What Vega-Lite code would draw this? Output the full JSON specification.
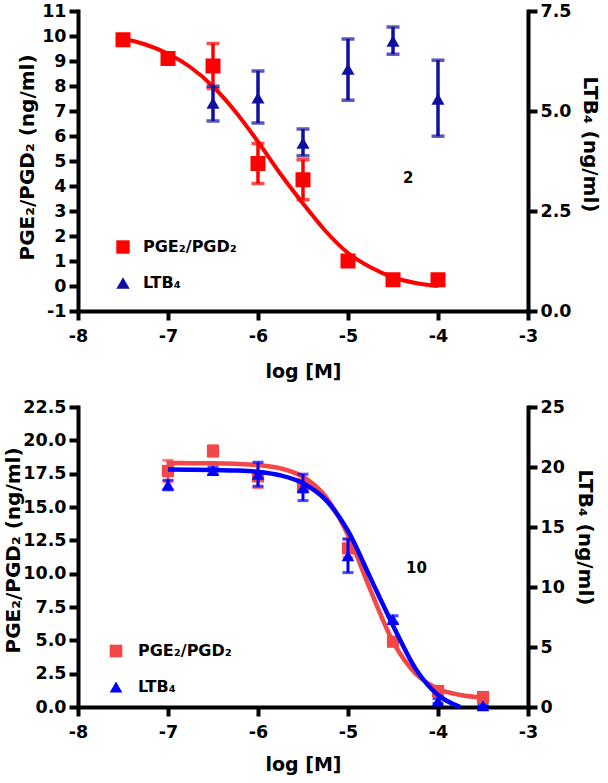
{
  "$schema": "https://vega.github.io/schema/vega-lite/v6.json",
  "padding": {"left": 3, "top": 2, "right": 5, "bottom": 0},
  "spacing": 16,
  "config": {
    "view": {"stroke": null},
    "font": "DejaVu Sans",
    "axis": {
      "domainColor": "black", "domainWidth": 4, "domainCap": "square",
      "tickColor": "black", "tickWidth": 4, "tickSize": 9,
      "labelFont": "DejaVu Sans", "labelFontWeight": "bold", "labelFontSize": 17.5, "labelColor": "black",
      "labelPadding": 3, "labelOverlap": false, "labelFlush": false,
      "titleFont": "DejaVu Sans", "titleFontWeight": "bold", "titleFontSize": 20, "titleColor": "black",
      "grid": false
    }
  },
  "datasets": {
    "top_red": [
      {"x": -7.5, "y": 9.85, "lo": 9.7, "hi": 10.0, "series": "PGE₂/PGD₂"},
      {"x": -7.0, "y": 9.1, "lo": 9.0, "hi": 9.2, "series": "PGE₂/PGD₂"},
      {"x": -6.5, "y": 8.8, "lo": 7.9, "hi": 9.7, "series": "PGE₂/PGD₂"},
      {"x": -6.0, "y": 4.9, "lo": 4.1, "hi": 5.7, "series": "PGE₂/PGD₂"},
      {"x": -5.5, "y": 4.25, "lo": 3.45, "hi": 5.05, "series": "PGE₂/PGD₂"},
      {"x": -5.0, "y": 1.0, "lo": 0.9, "hi": 1.1, "series": "PGE₂/PGD₂"},
      {"x": -4.5, "y": 0.25, "lo": 0.15, "hi": 0.35, "series": "PGE₂/PGD₂"},
      {"x": -4.0, "y": 0.25, "lo": 0.1, "hi": 0.4, "series": "PGE₂/PGD₂"}
    ],
    "top_blue": [
      {"x": -6.5, "y": 5.2, "lo": 4.75, "hi": 5.62, "series": "LTB₄"},
      {"x": -6.0, "y": 5.33, "lo": 4.7, "hi": 6.0, "series": "LTB₄"},
      {"x": -5.5, "y": 4.2, "lo": 3.88, "hi": 4.55, "series": "LTB₄"},
      {"x": -5.0, "y": 6.05, "lo": 5.27, "hi": 6.8, "series": "LTB₄"},
      {"x": -4.5, "y": 6.75, "lo": 6.42, "hi": 7.1, "series": "LTB₄"},
      {"x": -4.0, "y": 5.3, "lo": 4.37, "hi": 6.27, "series": "LTB₄"}
    ],
    "top_red_curve": [
      {"x": -7.5, "y": 9.9}, {"x": -7.25, "y": 9.66}, {"x": -7.0, "y": 9.29},
      {"x": -6.75, "y": 8.75}, {"x": -6.5, "y": 7.98}, {"x": -6.25, "y": 6.97},
      {"x": -6.0, "y": 5.77}, {"x": -5.75, "y": 4.48}, {"x": -5.5, "y": 3.3},
      {"x": -5.25, "y": 2.2}, {"x": -5.0, "y": 1.32}, {"x": -4.75, "y": 0.75},
      {"x": -4.5, "y": 0.35}, {"x": -4.25, "y": 0.12}, {"x": -4.0, "y": 0.0}
    ],
    "top_note": [{"x": -4.33, "y": 4.32, "label": "2"}],
    "bot_red": [
      {"x": -7.0, "y": 17.7, "lo": 16.9, "hi": 18.5, "series": "PGE₂/PGD₂"},
      {"x": -6.5, "y": 19.2, "lo": 18.8, "hi": 19.6, "series": "PGE₂/PGD₂"},
      {"x": -6.0, "y": 17.3, "lo": 16.45, "hi": 18.15, "series": "PGE₂/PGD₂"},
      {"x": -5.5, "y": 16.6, "lo": 16.1, "hi": 17.1, "series": "PGE₂/PGD₂"},
      {"x": -5.0, "y": 11.9, "lo": 11.2, "hi": 12.6, "series": "PGE₂/PGD₂"},
      {"x": -4.5, "y": 4.9, "lo": 4.6, "hi": 5.2, "series": "PGE₂/PGD₂"},
      {"x": -4.0, "y": 1.2, "lo": 1.0, "hi": 1.4, "series": "PGE₂/PGD₂"},
      {"x": -3.5, "y": 0.75, "lo": 0.65, "hi": 0.85, "series": "PGE₂/PGD₂"}
    ],
    "bot_blue": [
      {"x": -7.0, "y": 18.5, "lo": 18.1, "hi": 18.9, "series": "LTB₄"},
      {"x": -6.5, "y": 19.7, "lo": 19.4, "hi": 20.0, "series": "LTB₄"},
      {"x": -6.0, "y": 19.4, "lo": 18.4, "hi": 20.4, "series": "LTB₄"},
      {"x": -5.5, "y": 18.3, "lo": 17.2, "hi": 19.4, "series": "LTB₄"},
      {"x": -5.0, "y": 12.6, "lo": 11.2, "hi": 14.0, "series": "LTB₄"},
      {"x": -4.5, "y": 7.3, "lo": 7.0, "hi": 7.6, "series": "LTB₄"},
      {"x": -4.0, "y": 0.5, "lo": 0.3, "hi": 0.7, "series": "LTB₄"},
      {"x": -3.5, "y": 0.1, "lo": 0.0, "hi": 0.2, "series": "LTB₄"}
    ],
    "bot_red_curve": [
      {"x": -7.0, "y": 18.3}, {"x": -6.75, "y": 18.29}, {"x": -6.5, "y": 18.28},
      {"x": -6.25, "y": 18.24}, {"x": -6.0, "y": 18.15}, {"x": -5.75, "y": 17.9},
      {"x": -5.5, "y": 17.27}, {"x": -5.25, "y": 15.79}, {"x": -5.0, "y": 12.9},
      {"x": -4.75, "y": 8.76}, {"x": -4.5, "y": 4.9}, {"x": -4.25, "y": 2.51},
      {"x": -4.0, "y": 1.37}, {"x": -3.75, "y": 0.9}, {"x": -3.5, "y": 0.71}
    ],
    "bot_blue_curve": [
      {"x": -7.0, "y": 19.79}, {"x": -6.75, "y": 19.78}, {"x": -6.5, "y": 19.76},
      {"x": -6.25, "y": 19.71}, {"x": -6.0, "y": 19.59}, {"x": -5.75, "y": 19.3},
      {"x": -5.5, "y": 18.65}, {"x": -5.25, "y": 17.28}, {"x": -5.0, "y": 14.68},
      {"x": -4.75, "y": 10.74}, {"x": -4.5, "y": 6.8}, {"x": -4.25, "y": 3.2},
      {"x": -4.0, "y": 1.0}, {"x": -3.75, "y": 0.0}
    ],
    "bot_note": [{"x": -4.24, "y": 10.4, "label": "10"}]
  },
  "vconcat": [
    {
      "width": 450, "height": 300,
      "layer": [
        {
          "layer": [
            {
              "data": {"name": "top_red_curve"},
              "mark": {"type": "line", "color": "#ff0000", "strokeWidth": 4, "interpolate": "monotone"},
              "encoding": {
                "x": {"field": "x", "type": "quantitative", "scale": {"domain": [-8, -3], "nice": false, "zero": false}, "axis": {"title": "log [M]", "values": [-8, -7, -6, -5, -4, -3], "labelExpr": "datum.value < 0 ? '-' + format(-datum.value, 'd') : format(datum.value, 'd')", "titleFontSize": 19, "labelPadding": 7, "titlePadding": 18}},
                "y": {"field": "y", "type": "quantitative", "scale": {"domain": [-1, 11], "nice": false, "zero": false}, "axis": {"orient": "left", "title": "PGE₂/PGD₂ (ng/ml)", "values": [-1, 0, 1, 2, 3, 4, 5, 6, 7, 8, 9, 10, 11], "labelExpr": "datum.value < 0 ? '-' + format(-datum.value, 'd') : format(datum.value, 'd')", "titlePadding": 4, "titleY": 146}}
              }
            },
            {
              "data": {"name": "top_red"},
              "mark": {"type": "rule", "color": "#ff0000", "strokeWidth": 3.5},
              "encoding": {
                "x": {"field": "x", "type": "quantitative", "scale": {"domain": [-8, -3], "nice": false, "zero": false}, "axis": {"title": "log [M]", "values": [-8, -7, -6, -5, -4, -3], "labelExpr": "datum.value < 0 ? '-' + format(-datum.value, 'd') : format(datum.value, 'd')", "titleFontSize": 19, "labelPadding": 7, "titlePadding": 18}},
                "y": {"field": "lo", "type": "quantitative", "scale": {"domain": [-1, 11], "nice": false, "zero": false}, "axis": {"orient": "left", "title": "PGE₂/PGD₂ (ng/ml)", "values": [-1, 0, 1, 2, 3, 4, 5, 6, 7, 8, 9, 10, 11], "labelExpr": "datum.value < 0 ? '-' + format(-datum.value, 'd') : format(datum.value, 'd')", "titlePadding": 4, "titleY": 146}},
                "y2": {"field": "hi"}
              }
            },
            {
              "data": {"name": "top_red"},
              "mark": {"type": "tick", "orient": "horizontal", "color": "#ff0000", "size": 13, "thickness": 3.5},
              "encoding": {
                "x": {"field": "x", "type": "quantitative", "scale": {"domain": [-8, -3], "nice": false, "zero": false}, "axis": {"title": "log [M]", "values": [-8, -7, -6, -5, -4, -3], "labelExpr": "datum.value < 0 ? '-' + format(-datum.value, 'd') : format(datum.value, 'd')", "titleFontSize": 19, "labelPadding": 7, "titlePadding": 18}},
                "y": {"field": "lo", "type": "quantitative", "scale": {"domain": [-1, 11], "nice": false, "zero": false}, "axis": {"orient": "left", "title": "PGE₂/PGD₂ (ng/ml)", "values": [-1, 0, 1, 2, 3, 4, 5, 6, 7, 8, 9, 10, 11], "labelExpr": "datum.value < 0 ? '-' + format(-datum.value, 'd') : format(datum.value, 'd')", "titlePadding": 4, "titleY": 146}}
              }
            },
            {
              "data": {"name": "top_red"},
              "mark": {"type": "tick", "orient": "horizontal", "color": "#ff0000", "size": 13, "thickness": 3.5},
              "encoding": {
                "x": {"field": "x", "type": "quantitative", "scale": {"domain": [-8, -3], "nice": false, "zero": false}, "axis": {"title": "log [M]", "values": [-8, -7, -6, -5, -4, -3], "labelExpr": "datum.value < 0 ? '-' + format(-datum.value, 'd') : format(datum.value, 'd')", "titleFontSize": 19, "labelPadding": 7, "titlePadding": 18}},
                "y": {"field": "hi", "type": "quantitative", "scale": {"domain": [-1, 11], "nice": false, "zero": false}, "axis": {"orient": "left", "title": "PGE₂/PGD₂ (ng/ml)", "values": [-1, 0, 1, 2, 3, 4, 5, 6, 7, 8, 9, 10, 11], "labelExpr": "datum.value < 0 ? '-' + format(-datum.value, 'd') : format(datum.value, 'd')", "titlePadding": 4, "titleY": 146}}
              }
            },
            {
              "data": {"name": "top_red"},
              "mark": {"type": "point", "filled": true, "opacity": 1, "size": 225},
              "encoding": {
                "x": {"field": "x", "type": "quantitative", "scale": {"domain": [-8, -3], "nice": false, "zero": false}, "axis": {"title": "log [M]", "values": [-8, -7, -6, -5, -4, -3], "labelExpr": "datum.value < 0 ? '-' + format(-datum.value, 'd') : format(datum.value, 'd')", "titleFontSize": 19, "labelPadding": 7, "titlePadding": 18}},
                "y": {"field": "y", "type": "quantitative", "scale": {"domain": [-1, 11], "nice": false, "zero": false}, "axis": {"orient": "left", "title": "PGE₂/PGD₂ (ng/ml)", "values": [-1, 0, 1, 2, 3, 4, 5, 6, 7, 8, 9, 10, 11], "labelExpr": "datum.value < 0 ? '-' + format(-datum.value, 'd') : format(datum.value, 'd')", "titlePadding": 4, "titleY": 146}},
                "color": {"field": "series", "type": "nominal", "scale": {"domain": ["PGE₂/PGD₂", "LTB₄"], "range": ["#ff0000", "#1010a0"]}, "legend": {"orient": "none", "legendX": 37, "legendY": 228, "title": null, "symbolSize": 180, "labelFontSize": 16, "labelFontWeight": "bold", "labelFont": "DejaVu Sans", "labelColor": "black", "rowPadding": 20, "labelOffset": 12, "symbolStrokeWidth": 0, "padding": 0}},
                "shape": {"field": "series", "type": "nominal", "scale": {"domain": ["PGE₂/PGD₂", "LTB₄"], "range": ["square", "triangle-up"]}, "legend": {"orient": "none", "legendX": 37, "legendY": 228, "title": null, "symbolSize": 180, "labelFontSize": 16, "labelFontWeight": "bold", "labelFont": "DejaVu Sans", "labelColor": "black", "rowPadding": 20, "labelOffset": 12, "symbolStrokeWidth": 0, "padding": 0}}
              }
            },
            {
              "data": {"name": "top_note"},
              "mark": {"type": "text", "fontSize": 15, "fontWeight": "bold", "font": "DejaVu Sans", "color": "black"},
              "encoding": {
                "x": {"field": "x", "type": "quantitative", "scale": {"domain": [-8, -3], "nice": false, "zero": false}, "axis": {"title": "log [M]", "values": [-8, -7, -6, -5, -4, -3], "labelExpr": "datum.value < 0 ? '-' + format(-datum.value, 'd') : format(datum.value, 'd')", "titleFontSize": 19, "labelPadding": 7, "titlePadding": 18}},
                "y": {"field": "y", "type": "quantitative", "scale": {"domain": [-1, 11], "nice": false, "zero": false}, "axis": {"orient": "left", "title": "PGE₂/PGD₂ (ng/ml)", "values": [-1, 0, 1, 2, 3, 4, 5, 6, 7, 8, 9, 10, 11], "labelExpr": "datum.value < 0 ? '-' + format(-datum.value, 'd') : format(datum.value, 'd')", "titlePadding": 4, "titleY": 146}},
                "text": {"field": "label"}
              }
            }
          ]
        },
        {
          "layer": [
            {
              "data": {"name": "top_blue"},
              "mark": {"type": "rule", "color": "#1010a0", "strokeWidth": 3.5},
              "encoding": {
                "x": {"field": "x", "type": "quantitative", "scale": {"domain": [-8, -3], "nice": false, "zero": false}, "axis": {"title": "log [M]", "values": [-8, -7, -6, -5, -4, -3], "labelExpr": "datum.value < 0 ? '-' + format(-datum.value, 'd') : format(datum.value, 'd')", "titleFontSize": 19, "labelPadding": 7, "titlePadding": 18}},
                "y": {"field": "lo", "type": "quantitative", "scale": {"domain": [0, 7.5], "nice": false, "zero": false}, "axis": {"orient": "right", "title": "LTB₄ (ng/ml)", "values": [0, 2.5, 5, 7.5], "format": ".1f", "titlePadding": 8, "titleY": 133}},
                "y2": {"field": "hi"}
              }
            },
            {
              "data": {"name": "top_blue"},
              "mark": {"type": "tick", "orient": "horizontal", "color": "#1010a0", "size": 13, "thickness": 3.5},
              "encoding": {
                "x": {"field": "x", "type": "quantitative", "scale": {"domain": [-8, -3], "nice": false, "zero": false}, "axis": {"title": "log [M]", "values": [-8, -7, -6, -5, -4, -3], "labelExpr": "datum.value < 0 ? '-' + format(-datum.value, 'd') : format(datum.value, 'd')", "titleFontSize": 19, "labelPadding": 7, "titlePadding": 18}},
                "y": {"field": "lo", "type": "quantitative", "scale": {"domain": [0, 7.5], "nice": false, "zero": false}, "axis": {"orient": "right", "title": "LTB₄ (ng/ml)", "values": [0, 2.5, 5, 7.5], "format": ".1f", "titlePadding": 8, "titleY": 133}}
              }
            },
            {
              "data": {"name": "top_blue"},
              "mark": {"type": "tick", "orient": "horizontal", "color": "#1010a0", "size": 13, "thickness": 3.5},
              "encoding": {
                "x": {"field": "x", "type": "quantitative", "scale": {"domain": [-8, -3], "nice": false, "zero": false}, "axis": {"title": "log [M]", "values": [-8, -7, -6, -5, -4, -3], "labelExpr": "datum.value < 0 ? '-' + format(-datum.value, 'd') : format(datum.value, 'd')", "titleFontSize": 19, "labelPadding": 7, "titlePadding": 18}},
                "y": {"field": "hi", "type": "quantitative", "scale": {"domain": [0, 7.5], "nice": false, "zero": false}, "axis": {"orient": "right", "title": "LTB₄ (ng/ml)", "values": [0, 2.5, 5, 7.5], "format": ".1f", "titlePadding": 8, "titleY": 133}}
              }
            },
            {
              "data": {"name": "top_blue"},
              "mark": {"type": "point", "filled": true, "opacity": 1, "size": 170},
              "encoding": {
                "x": {"field": "x", "type": "quantitative", "scale": {"domain": [-8, -3], "nice": false, "zero": false}, "axis": {"title": "log [M]", "values": [-8, -7, -6, -5, -4, -3], "labelExpr": "datum.value < 0 ? '-' + format(-datum.value, 'd') : format(datum.value, 'd')", "titleFontSize": 19, "labelPadding": 7, "titlePadding": 18}},
                "y": {"field": "y", "type": "quantitative", "scale": {"domain": [0, 7.5], "nice": false, "zero": false}, "axis": {"orient": "right", "title": "LTB₄ (ng/ml)", "values": [0, 2.5, 5, 7.5], "format": ".1f", "titlePadding": 8, "titleY": 133}},
                "color": {"field": "series", "type": "nominal", "scale": {"domain": ["PGE₂/PGD₂", "LTB₄"], "range": ["#ff0000", "#1010a0"]}, "legend": {"orient": "none", "legendX": 37, "legendY": 228, "title": null, "symbolSize": 180, "labelFontSize": 16, "labelFontWeight": "bold", "labelFont": "DejaVu Sans", "labelColor": "black", "rowPadding": 20, "labelOffset": 12, "symbolStrokeWidth": 0, "padding": 0}},
                "shape": {"field": "series", "type": "nominal", "scale": {"domain": ["PGE₂/PGD₂", "LTB₄"], "range": ["square", "triangle-up"]}, "legend": {"orient": "none", "legendX": 37, "legendY": 228, "title": null, "symbolSize": 180, "labelFontSize": 16, "labelFontWeight": "bold", "labelFont": "DejaVu Sans", "labelColor": "black", "rowPadding": 20, "labelOffset": 12, "symbolStrokeWidth": 0, "padding": 0}}
              }
            }
          ]
        }
      ],
      "resolve": {"scale": {"y": "independent"}}
    },
    {
      "width": 450, "height": 300,
      "layer": [
        {
          "layer": [
            {
              "data": {"name": "bot_red_curve"},
              "mark": {"type": "line", "color": "#f44848", "strokeWidth": 4.5, "interpolate": "monotone"},
              "encoding": {
                "x": {"field": "x", "type": "quantitative", "scale": {"domain": [-8, -3], "nice": false, "zero": false}, "axis": {"title": "log [M]", "values": [-8, -7, -6, -5, -4, -3], "labelExpr": "datum.value < 0 ? '-' + format(-datum.value, 'd') : format(datum.value, 'd')", "titleFontSize": 19, "labelPadding": 7, "titlePadding": 15}},
                "y": {"field": "y", "type": "quantitative", "scale": {"domain": [0, 22.5], "nice": false, "zero": false}, "axis": {"orient": "left", "title": "PGE₂/PGD₂ (ng/ml)", "values": [0, 2.5, 5, 7.5, 10, 12.5, 15, 17.5, 20, 22.5], "format": ".1f", "titlePadding": -1, "titleY": 143}}
              }
            },
            {
              "data": {"name": "bot_red"},
              "mark": {"type": "rule", "color": "#f44848", "strokeWidth": 3},
              "encoding": {
                "x": {"field": "x", "type": "quantitative", "scale": {"domain": [-8, -3], "nice": false, "zero": false}, "axis": {"title": "log [M]", "values": [-8, -7, -6, -5, -4, -3], "labelExpr": "datum.value < 0 ? '-' + format(-datum.value, 'd') : format(datum.value, 'd')", "titleFontSize": 19, "labelPadding": 7, "titlePadding": 15}},
                "y": {"field": "lo", "type": "quantitative", "scale": {"domain": [0, 22.5], "nice": false, "zero": false}, "axis": {"orient": "left", "title": "PGE₂/PGD₂ (ng/ml)", "values": [0, 2.5, 5, 7.5, 10, 12.5, 15, 17.5, 20, 22.5], "format": ".1f", "titlePadding": -1, "titleY": 143}},
                "y2": {"field": "hi"}
              }
            },
            {
              "data": {"name": "bot_red"},
              "mark": {"type": "tick", "orient": "horizontal", "color": "#f44848", "size": 11, "thickness": 3},
              "encoding": {
                "x": {"field": "x", "type": "quantitative", "scale": {"domain": [-8, -3], "nice": false, "zero": false}, "axis": {"title": "log [M]", "values": [-8, -7, -6, -5, -4, -3], "labelExpr": "datum.value < 0 ? '-' + format(-datum.value, 'd') : format(datum.value, 'd')", "titleFontSize": 19, "labelPadding": 7, "titlePadding": 15}},
                "y": {"field": "lo", "type": "quantitative", "scale": {"domain": [0, 22.5], "nice": false, "zero": false}, "axis": {"orient": "left", "title": "PGE₂/PGD₂ (ng/ml)", "values": [0, 2.5, 5, 7.5, 10, 12.5, 15, 17.5, 20, 22.5], "format": ".1f", "titlePadding": -1, "titleY": 143}}
              }
            },
            {
              "data": {"name": "bot_red"},
              "mark": {"type": "tick", "orient": "horizontal", "color": "#f44848", "size": 11, "thickness": 3},
              "encoding": {
                "x": {"field": "x", "type": "quantitative", "scale": {"domain": [-8, -3], "nice": false, "zero": false}, "axis": {"title": "log [M]", "values": [-8, -7, -6, -5, -4, -3], "labelExpr": "datum.value < 0 ? '-' + format(-datum.value, 'd') : format(datum.value, 'd')", "titleFontSize": 19, "labelPadding": 7, "titlePadding": 15}},
                "y": {"field": "hi", "type": "quantitative", "scale": {"domain": [0, 22.5], "nice": false, "zero": false}, "axis": {"orient": "left", "title": "PGE₂/PGD₂ (ng/ml)", "values": [0, 2.5, 5, 7.5, 10, 12.5, 15, 17.5, 20, 22.5], "format": ".1f", "titlePadding": -1, "titleY": 143}}
              }
            },
            {
              "data": {"name": "bot_red"},
              "mark": {"type": "point", "filled": true, "opacity": 1, "size": 150},
              "encoding": {
                "x": {"field": "x", "type": "quantitative", "scale": {"domain": [-8, -3], "nice": false, "zero": false}, "axis": {"title": "log [M]", "values": [-8, -7, -6, -5, -4, -3], "labelExpr": "datum.value < 0 ? '-' + format(-datum.value, 'd') : format(datum.value, 'd')", "titleFontSize": 19, "labelPadding": 7, "titlePadding": 15}},
                "y": {"field": "y", "type": "quantitative", "scale": {"domain": [0, 22.5], "nice": false, "zero": false}, "axis": {"orient": "left", "title": "PGE₂/PGD₂ (ng/ml)", "values": [0, 2.5, 5, 7.5, 10, 12.5, 15, 17.5, 20, 22.5], "format": ".1f", "titlePadding": -1, "titleY": 143}},
                "color": {"field": "series", "type": "nominal", "scale": {"domain": ["PGE₂/PGD₂", "LTB₄"], "range": ["#f44848", "#0000ff"]}, "legend": {"orient": "none", "legendX": 30, "legendY": 236, "title": null, "symbolSize": 160, "labelFontSize": 16, "labelFontWeight": "bold", "labelFont": "DejaVu Sans", "labelColor": "black", "rowPadding": 20, "labelOffset": 14, "symbolStrokeWidth": 0, "padding": 0}},
                "shape": {"field": "series", "type": "nominal", "scale": {"domain": ["PGE₂/PGD₂", "LTB₄"], "range": ["square", "triangle-up"]}, "legend": {"orient": "none", "legendX": 30, "legendY": 236, "title": null, "symbolSize": 160, "labelFontSize": 16, "labelFontWeight": "bold", "labelFont": "DejaVu Sans", "labelColor": "black", "rowPadding": 20, "labelOffset": 14, "symbolStrokeWidth": 0, "padding": 0}}
              }
            },
            {
              "data": {"name": "bot_note"},
              "mark": {"type": "text", "fontSize": 15, "fontWeight": "bold", "font": "DejaVu Sans", "color": "black"},
              "encoding": {
                "x": {"field": "x", "type": "quantitative", "scale": {"domain": [-8, -3], "nice": false, "zero": false}, "axis": {"title": "log [M]", "values": [-8, -7, -6, -5, -4, -3], "labelExpr": "datum.value < 0 ? '-' + format(-datum.value, 'd') : format(datum.value, 'd')", "titleFontSize": 19, "labelPadding": 7, "titlePadding": 15}},
                "y": {"field": "y", "type": "quantitative", "scale": {"domain": [0, 22.5], "nice": false, "zero": false}, "axis": {"orient": "left", "title": "PGE₂/PGD₂ (ng/ml)", "values": [0, 2.5, 5, 7.5, 10, 12.5, 15, 17.5, 20, 22.5], "format": ".1f", "titlePadding": -1, "titleY": 143}},
                "text": {"field": "label"}
              }
            }
          ]
        },
        {
          "layer": [
            {
              "data": {"name": "bot_blue_curve"},
              "mark": {"type": "line", "color": "#0000ff", "strokeWidth": 4.5, "interpolate": "monotone"},
              "encoding": {
                "x": {"field": "x", "type": "quantitative", "scale": {"domain": [-8, -3], "nice": false, "zero": false}, "axis": {"title": "log [M]", "values": [-8, -7, -6, -5, -4, -3], "labelExpr": "datum.value < 0 ? '-' + format(-datum.value, 'd') : format(datum.value, 'd')", "titleFontSize": 19, "labelPadding": 7, "titlePadding": 15}},
                "y": {"field": "y", "type": "quantitative", "scale": {"domain": [0, 25], "nice": false, "zero": false}, "axis": {"orient": "right", "title": "LTB₄ (ng/ml)", "values": [0, 5, 10, 15, 20, 25], "titlePadding": 10, "titleY": 130}}
              }
            },
            {
              "data": {"name": "bot_blue"},
              "mark": {"type": "rule", "color": "#0000ff", "strokeWidth": 3},
              "encoding": {
                "x": {"field": "x", "type": "quantitative", "scale": {"domain": [-8, -3], "nice": false, "zero": false}, "axis": {"title": "log [M]", "values": [-8, -7, -6, -5, -4, -3], "labelExpr": "datum.value < 0 ? '-' + format(-datum.value, 'd') : format(datum.value, 'd')", "titleFontSize": 19, "labelPadding": 7, "titlePadding": 15}},
                "y": {"field": "lo", "type": "quantitative", "scale": {"domain": [0, 25], "nice": false, "zero": false}, "axis": {"orient": "right", "title": "LTB₄ (ng/ml)", "values": [0, 5, 10, 15, 20, 25], "titlePadding": 10, "titleY": 130}},
                "y2": {"field": "hi"}
              }
            },
            {
              "data": {"name": "bot_blue"},
              "mark": {"type": "tick", "orient": "horizontal", "color": "#0000ff", "size": 11, "thickness": 3},
              "encoding": {
                "x": {"field": "x", "type": "quantitative", "scale": {"domain": [-8, -3], "nice": false, "zero": false}, "axis": {"title": "log [M]", "values": [-8, -7, -6, -5, -4, -3], "labelExpr": "datum.value < 0 ? '-' + format(-datum.value, 'd') : format(datum.value, 'd')", "titleFontSize": 19, "labelPadding": 7, "titlePadding": 15}},
                "y": {"field": "lo", "type": "quantitative", "scale": {"domain": [0, 25], "nice": false, "zero": false}, "axis": {"orient": "right", "title": "LTB₄ (ng/ml)", "values": [0, 5, 10, 15, 20, 25], "titlePadding": 10, "titleY": 130}}
              }
            },
            {
              "data": {"name": "bot_blue"},
              "mark": {"type": "tick", "orient": "horizontal", "color": "#0000ff", "size": 11, "thickness": 3},
              "encoding": {
                "x": {"field": "x", "type": "quantitative", "scale": {"domain": [-8, -3], "nice": false, "zero": false}, "axis": {"title": "log [M]", "values": [-8, -7, -6, -5, -4, -3], "labelExpr": "datum.value < 0 ? '-' + format(-datum.value, 'd') : format(datum.value, 'd')", "titleFontSize": 19, "labelPadding": 7, "titlePadding": 15}},
                "y": {"field": "hi", "type": "quantitative", "scale": {"domain": [0, 25], "nice": false, "zero": false}, "axis": {"orient": "right", "title": "LTB₄ (ng/ml)", "values": [0, 5, 10, 15, 20, 25], "titlePadding": 10, "titleY": 130}}
              }
            },
            {
              "data": {"name": "bot_blue"},
              "mark": {"type": "point", "filled": true, "opacity": 1, "size": 160},
              "encoding": {
                "x": {"field": "x", "type": "quantitative", "scale": {"domain": [-8, -3], "nice": false, "zero": false}, "axis": {"title": "log [M]", "values": [-8, -7, -6, -5, -4, -3], "labelExpr": "datum.value < 0 ? '-' + format(-datum.value, 'd') : format(datum.value, 'd')", "titleFontSize": 19, "labelPadding": 7, "titlePadding": 15}},
                "y": {"field": "y", "type": "quantitative", "scale": {"domain": [0, 25], "nice": false, "zero": false}, "axis": {"orient": "right", "title": "LTB₄ (ng/ml)", "values": [0, 5, 10, 15, 20, 25], "titlePadding": 10, "titleY": 130}},
                "color": {"field": "series", "type": "nominal", "scale": {"domain": ["PGE₂/PGD₂", "LTB₄"], "range": ["#f44848", "#0000ff"]}, "legend": {"orient": "none", "legendX": 30, "legendY": 236, "title": null, "symbolSize": 160, "labelFontSize": 16, "labelFontWeight": "bold", "labelFont": "DejaVu Sans", "labelColor": "black", "rowPadding": 20, "labelOffset": 14, "symbolStrokeWidth": 0, "padding": 0}},
                "shape": {"field": "series", "type": "nominal", "scale": {"domain": ["PGE₂/PGD₂", "LTB₄"], "range": ["square", "triangle-up"]}, "legend": {"orient": "none", "legendX": 30, "legendY": 236, "title": null, "symbolSize": 160, "labelFontSize": 16, "labelFontWeight": "bold", "labelFont": "DejaVu Sans", "labelColor": "black", "rowPadding": 20, "labelOffset": 14, "symbolStrokeWidth": 0, "padding": 0}}
              }
            }
          ]
        }
      ],
      "resolve": {"scale": {"y": "independent"}}
    }
  ],
  "resolve": {"scale": {"color": "independent", "shape": "independent"}, "legend": {"color": "independent", "shape": "independent"}}
}
